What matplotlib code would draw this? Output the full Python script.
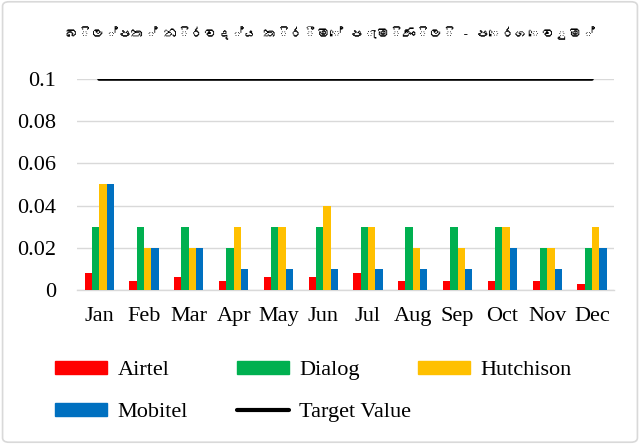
import numpy as np
import matplotlib
matplotlib.use("Agg")
import matplotlib.pyplot as plt
from matplotlib import font_manager
from matplotlib.patches import FancyBboxPatch, Patch
from matplotlib.lines import Line2D

months = ["Jan", "Feb", "Mar", "Apr", "May", "Jun", "Jul", "Aug", "Sep", "Oct", "Nov", "Dec"]
airtel = [0.008, 0.004, 0.006, 0.004, 0.006, 0.006, 0.008, 0.004, 0.004, 0.004, 0.004, 0.003]
dialog = [0.03, 0.03, 0.03, 0.02, 0.03, 0.03, 0.03, 0.03, 0.03, 0.03, 0.02, 0.02]
hutchison = [0.05, 0.02, 0.02, 0.03, 0.03, 0.04, 0.03, 0.02, 0.02, 0.03, 0.02, 0.03]
mobitel = [0.05, 0.02, 0.02, 0.01, 0.01, 0.01, 0.01, 0.01, 0.01, 0.02, 0.01, 0.02]
target = [0.1] * 12
yticks = [0, 0.02, 0.04, 0.06, 0.08, 0.1]
ytick_labels = ["0", "0.02", "0.04", "0.06", "0.08", "0.1"]
# zero width joiner left out, the sinhala font has no glyph for it
title = "බිල්පත් නිරවද්ය කිරීමේ පැමිණිලි - පෙරගෙවුම්"


# look for any installed font that has sinhala glyphs
def find_sinhala_font():
    try:
        from fontTools.ttLib import TTFont
    except ImportError:
        return None
    for path in font_manager.findSystemFonts():
        try:
            f = TTFont(path, fontNumber=0, lazy=True)
            cmap = f.getBestCmap()
            if cmap and 0x0DB6 in cmap:
                font_manager.fontManager.addfont(path)
                return font_manager.FontProperties(fname=path).get_name()
        except Exception:
            continue
    return None


sinhala = find_sinhala_font()
serif = "Liberation Serif"
title_family = [sinhala, "DejaVu Sans"] if sinhala else ["DejaVu Sans"]

plt.rcParams["font.family"] = serif

fig = plt.figure(figsize=(6.4, 4.44), dpi=100)
ax = fig.add_axes([0.12, 0.347, 0.84, 0.475])

x = np.arange(len(months))
w = 0.163
colors = ["#ff0000", "#00b050", "#ffc000", "#0070c0"]
series = [airtel, dialog, hutchison, mobitel]
for i, (vals, c) in enumerate(zip(series, colors)):
    ax.bar(x + (i - 1.5) * w, vals, w, color=c, zorder=3)
ax.plot(x, target, color="black", lw=2.6, solid_capstyle="round", zorder=4)

ax.set_xlim(-0.5, 11.5)
ax.set_ylim(0, 0.1)
ax.set_yticks(yticks)
ax.set_yticklabels(ytick_labels)
ax.set_xticks(x)
ax.set_xticklabels(months)
ax.tick_params(axis="both", length=0, labelsize=16, colors="black")
ax.tick_params(axis="y", pad=15)
ax.tick_params(axis="x", pad=12)
ax.grid(axis="y", color="#d9d9d9", lw=1, zorder=0)
ax.set_axisbelow(True)
for s in ["top", "right", "left"]:
    ax.spines[s].set_visible(False)
ax.spines["bottom"].set_color("#d9d9d9")
ax.spines["bottom"].set_linewidth(1)
ax.spines["bottom"].set_zorder(1)

fig.text(0.515, 0.925, title, ha="center", va="center", fontsize=9.5,
         fontweight="bold", family=title_family)

# legend, one per column like excel
leg_kw = dict(frameon=False, fontsize=16, handlelength=2.35, handleheight=0.54,
              handletextpad=0.45, labelspacing=1.02, borderpad=0, loc="upper left")
h_air = Patch(color=colors[0])
h_dia = Patch(color=colors[1])
h_hut = Patch(color=colors[2])
h_mob = Patch(color=colors[3])
h_tgt = Line2D([], [], color="black", lw=3, solid_capstyle="round")
fig.legend([h_air, h_mob], ["Airtel", "Mobitel"], bbox_to_anchor=(0.069, 0.213), **leg_kw)
fig.legend([h_dia, h_tgt], ["Dialog", "Target Value"], bbox_to_anchor=(0.353, 0.213), **leg_kw)
fig.legend([h_hut], ["Hutchison"], bbox_to_anchor=(0.636, 0.213), **leg_kw)

border = FancyBboxPatch((0.004, 0.004), 0.992, 0.992, boxstyle="round,pad=0,rounding_size=0.01",
                        transform=fig.transFigure, fill=False, edgecolor="#d9d9d9", lw=1.2)
fig.patches.append(border)

fig.savefig("out.png", dpi=100)
